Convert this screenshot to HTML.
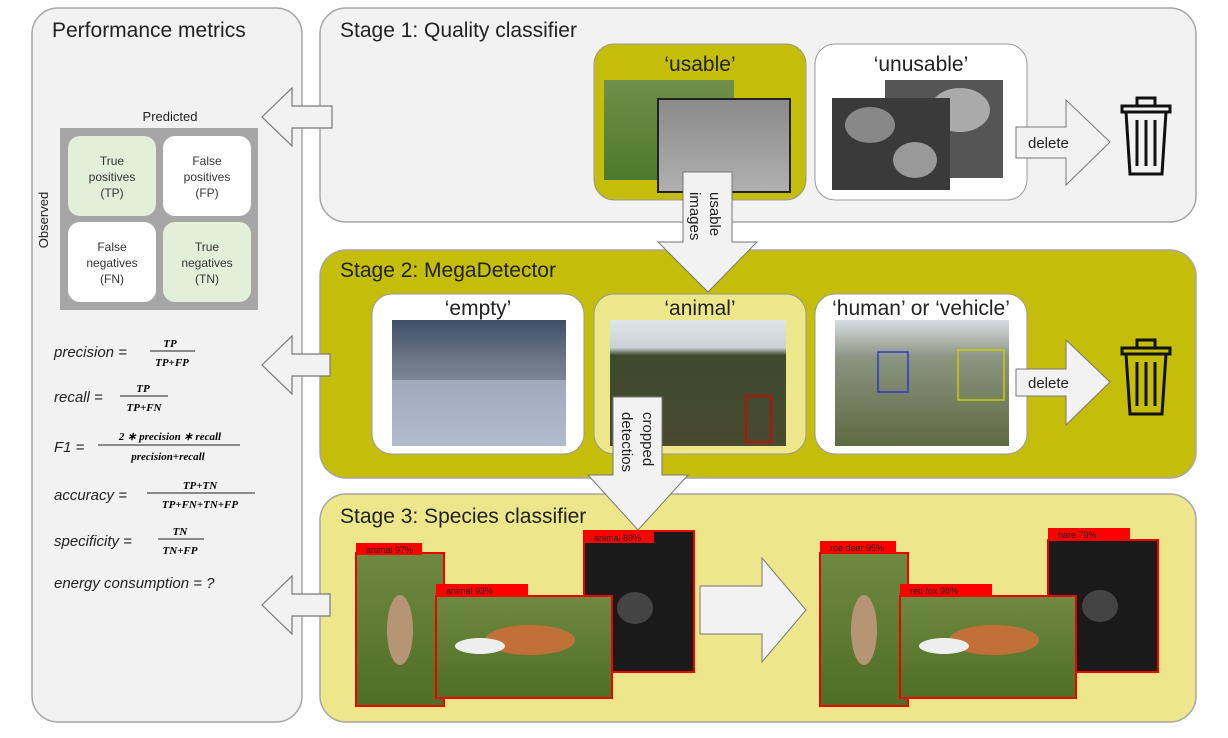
<!DOCTYPE html>
<html><head><style>
body{margin:0;background:#fff;}
svg{display:block;font-family:"Liberation Sans",sans-serif;}
.m{font-family:"Liberation Serif",serif;font-style:italic;font-weight:bold;font-size:11px;}
.f{font-family:"Liberation Sans",sans-serif;font-style:italic;font-size:15px;fill:#222}
</style></head><body>
<svg width="1228" height="738" viewBox="0 0 1228 738">
<defs>
<linearGradient id="forest" x1="0" y1="0" x2="0" y2="1"><stop offset="0" stop-color="#6f8f4a"/><stop offset="1" stop-color="#4d7a2a"/></linearGradient>
<linearGradient id="sand" x1="0" y1="0" x2="0" y2="1"><stop offset="0" stop-color="#8a8a8a"/><stop offset="1" stop-color="#b0b0b0"/></linearGradient>
<linearGradient id="snow" x1="0" y1="0" x2="0" y2="1"><stop offset="0" stop-color="#3f5068"/><stop offset="0.3" stop-color="#6a7585"/><stop offset="1" stop-color="#a9b4c8"/></linearGradient>
<linearGradient id="tundra" x1="0" y1="0" x2="0" y2="1"><stop offset="0" stop-color="#dfe6ea"/><stop offset="0.22" stop-color="#c9d2d6"/><stop offset="0.28" stop-color="#3c4a2c"/><stop offset="1" stop-color="#4a4a2e"/></linearGradient>
<linearGradient id="car" x1="0" y1="0" x2="0" y2="1"><stop offset="0" stop-color="#d6dde3"/><stop offset="0.3" stop-color="#8a9480"/><stop offset="1" stop-color="#5e6a40"/></linearGradient>
<linearGradient id="grass" x1="0" y1="0" x2="0" y2="1"><stop offset="0" stop-color="#6f8a40"/><stop offset="1" stop-color="#4d6e25"/></linearGradient>
</defs>

<rect x="32" y="8" width="270" height="714" rx="26" fill="#f2f2f2" stroke="#a6a6a6" stroke-width="1.5"/>
<rect x="320" y="8" width="876" height="214" rx="26" fill="#f2f2f2" stroke="#a6a6a6" stroke-width="1.5"/>
<rect x="320" y="250" width="876" height="228" rx="26" fill="#c4bd09" stroke="#a6a6a6" stroke-width="1.5"/>
<rect x="320" y="494" width="876" height="228" rx="26" fill="#ede68a" stroke="#a6a6a6" stroke-width="1.5"/>

<text x="52" y="37" font-size="21" fill="#222">Performance metrics</text>
<text x="340" y="37" font-size="21" fill="#222">Stage 1: Quality classifier</text>
<text x="340" y="277" font-size="21" fill="#222">Stage 2: MegaDetector</text>
<text x="340" y="523" font-size="21" fill="#222">Stage 3: Species classifier</text>

<text x="170" y="121" font-size="13" text-anchor="middle" fill="#222">Predicted</text>
<text transform="translate(48,220) rotate(-90)" font-size="13" text-anchor="middle" fill="#222">Observed</text>
<rect x="60" y="128" width="198" height="182" fill="#a6a6a6"/>
<rect x="68" y="136" width="88" height="80" rx="12" fill="#e2efd9"/>
<rect x="163" y="136" width="88" height="80" rx="12" fill="#fff"/>
<rect x="68" y="222" width="88" height="80" rx="12" fill="#fff"/>
<rect x="163" y="222" width="88" height="80" rx="12" fill="#e2efd9"/>
<g font-size="12" fill="#333" text-anchor="middle">
<text x="112" y="165">True</text><text x="112" y="181">positives</text><text x="112" y="197">(TP)</text>
<text x="207" y="165">False</text><text x="207" y="181">positives</text><text x="207" y="197">(FP)</text>
<text x="112" y="251">False</text><text x="112" y="267">negatives</text><text x="112" y="283">(FN)</text>
<text x="207" y="251">True</text><text x="207" y="267">negatives</text><text x="207" y="283">(TN)</text>
</g>

<g>
<text class="f" x="54" y="357">precision =</text>
<text class="m" x="170" y="347" text-anchor="middle">TP</text><line x1="150" y1="351" x2="195" y2="351" stroke="#222"/><text class="m" x="172" y="366" text-anchor="middle">TP+FP</text>
<text class="f" x="54" y="402">recall =</text>
<text class="m" x="143" y="392" text-anchor="middle">TP</text><line x1="120" y1="396" x2="168" y2="396" stroke="#222"/><text class="m" x="144" y="411" text-anchor="middle">TP+FN</text>
<text class="f" x="54" y="452">F1 =</text>
<text class="m" x="170" y="440" text-anchor="middle" font-weight="normal">2 ∗ precision ∗ recall</text><line x1="98" y1="445" x2="240" y2="445" stroke="#222"/><text class="m" x="168" y="460" text-anchor="middle" font-weight="normal">precision+recall</text>
<text class="f" x="54" y="500">accuracy =</text>
<text class="m" x="200" y="489" text-anchor="middle">TP+TN</text><line x1="147" y1="493" x2="255" y2="493" stroke="#222"/><text class="m" x="200" y="508" text-anchor="middle">TP+FN+TN+FP</text>
<text class="f" x="54" y="546">specificity =</text>
<text class="m" x="180" y="535" text-anchor="middle">TN</text><line x1="158" y1="539" x2="204" y2="539" stroke="#222"/><text class="m" x="180" y="554" text-anchor="middle">TN+FP</text>
<text class="f" x="54" y="588">energy consumption = ?</text>
</g>

<g fill="#f2f2f2" stroke="#777" stroke-width="1.2">
<path d="M262,117 L292,88 L292,106 L332,106 L332,128 L292,128 L292,146 Z"/>
<path d="M262,365 L292,336 L292,354 L330,354 L330,376 L292,376 L292,394 Z"/>
<path d="M262,605 L292,576 L292,594 L330,594 L330,616 L292,616 L292,634 Z"/>
</g>

<rect x="594" y="44" width="212" height="156" rx="20" fill="#c4bd09" stroke="#999"/>
<text x="700" y="71" font-size="21" text-anchor="middle" fill="#222">‘usable’</text>
<rect x="604" y="80" width="130" height="100" fill="url(#forest)"/>
<rect x="658" y="99" width="132" height="93" fill="url(#sand)" stroke="#222" stroke-width="2"/>
<rect x="815" y="44" width="212" height="156" rx="20" fill="#fff" stroke="#999"/>
<text x="921" y="71" font-size="21" text-anchor="middle" fill="#222">‘unusable’</text>
<rect x="885" y="80" width="118" height="98" fill="#555"/>
<ellipse cx="960" cy="110" rx="30" ry="22" fill="#aaa"/>
<rect x="832" y="98" width="118" height="92" fill="#3a3a3a"/>
<ellipse cx="870" cy="125" rx="25" ry="18" fill="#888"/><ellipse cx="915" cy="160" rx="22" ry="18" fill="#999"/>
<path d="M1016,127 L1066,127 L1066,100 L1110,142 L1066,185 L1066,158 L1016,158 Z" fill="#f2f2f2" stroke="#777"/>
<text x="1028" y="148" font-size="15" fill="#222">delete</text>
<g fill="none" stroke="#111" stroke-width="3">
<rect x="1122" y="106" width="48" height="6"/><rect x="1137" y="98" width="18" height="8"/>
<path d="M1126,112 L1130,174 L1162,174 L1166,112"/>
<line x1="1137" y1="120" x2="1137" y2="166"/><line x1="1146" y1="120" x2="1146" y2="166"/><line x1="1155" y1="120" x2="1155" y2="166"/>
</g>

<rect x="372" y="294" width="212" height="160" rx="20" fill="#fff" stroke="#999"/>
<text x="478" y="315" font-size="21" text-anchor="middle" fill="#222">‘empty’</text>
<rect x="392" y="320" width="174" height="126" fill="url(#snow)"/>
<rect x="392" y="380" width="174" height="66" fill="#b9c1d3" opacity="0.6"/>
<rect x="594" y="294" width="212" height="160" rx="20" fill="#ede68a" stroke="#999"/>
<text x="700" y="315" font-size="21" text-anchor="middle" fill="#222">‘animal’</text>
<rect x="610" y="320" width="176" height="126" fill="url(#tundra)"/>
<rect x="746" y="396" width="25" height="46" fill="none" stroke="#d00" stroke-width="1.5"/>
<rect x="815" y="294" width="212" height="160" rx="20" fill="#fff" stroke="#999"/>
<text x="921" y="315" font-size="21" text-anchor="middle" fill="#222">‘human’ or ‘vehicle’</text>
<rect x="835" y="320" width="174" height="126" fill="url(#car)"/>
<rect x="878" y="352" width="30" height="40" fill="none" stroke="#33c" stroke-width="1.5"/>
<rect x="958" y="350" width="46" height="50" fill="none" stroke="#cc0" stroke-width="1.5"/>
<path d="M1016,369 L1066,369 L1066,340 L1110,382 L1066,425 L1066,396 L1016,396 Z" fill="#f2f2f2" stroke="#777"/>
<text x="1028" y="388" font-size="15" fill="#222">delete</text>
<g fill="none" stroke="#111" stroke-width="3">
<rect x="1122" y="348" width="48" height="6"/><rect x="1137" y="340" width="18" height="8"/>
<path d="M1126,354 L1130,414 L1162,414 L1166,354"/>
<line x1="1137" y1="362" x2="1137" y2="406"/><line x1="1146" y1="362" x2="1146" y2="406"/><line x1="1155" y1="362" x2="1155" y2="406"/>
</g>

<path d="M683,172 L732,172 L732,242 L757,242 L708,292 L658,242 L683,242 Z" fill="#f2f2f2" stroke="#777"/>
<text transform="translate(710,192) rotate(90)" font-size="15" fill="#222">usable</text>
<text transform="translate(690,192) rotate(90)" font-size="15" fill="#222">images</text>
<path d="M613,397 L662,397 L662,475 L688,475 L638,530 L588,475 L613,475 Z" fill="#f2f2f2" stroke="#777"/>
<text transform="translate(643,412) rotate(90)" font-size="15" fill="#222">cropped</text>
<text transform="translate(622,412) rotate(90)" font-size="15" fill="#222">detectios</text>

<g>
<rect x="584" y="531" width="110" height="141" fill="#1a1a1a" stroke="#e00" stroke-width="2"/>
<rect x="584" y="531" width="70" height="12" fill="#f00"/><text x="594" y="541" font-size="9" fill="#222">animal 89%</text>
<ellipse cx="635" cy="608" rx="18" ry="16" fill="#444"/>
<rect x="356" y="553" width="88" height="153" fill="url(#grass)" stroke="#e00" stroke-width="2"/>
<rect x="356" y="543" width="66" height="12" fill="#f00"/><text x="366" y="553" font-size="9" fill="#222">animal 97%</text>
<ellipse cx="400" cy="630" rx="13" ry="35" fill="#b59574"/>
<rect x="436" y="596" width="176" height="102" fill="url(#grass)" stroke="#e00" stroke-width="2"/>
<rect x="436" y="584" width="92" height="12" fill="#f00"/><text x="446" y="594" font-size="9" fill="#222">animal 93%</text>
<ellipse cx="530" cy="640" rx="45" ry="15" fill="#c2703a"/><ellipse cx="480" cy="646" rx="25" ry="8" fill="#eee"/>
</g>
<path d="M700,586 L762,586 L762,558 L806,610 L762,662 L762,634 L700,634 Z" fill="#f2f2f2" stroke="#777"/>
<g>
<rect x="1048" y="540" width="110" height="132" fill="#1a1a1a" stroke="#e00" stroke-width="2"/>
<rect x="1048" y="528" width="82" height="12" fill="#f00"/><text x="1058" y="538" font-size="9" fill="#222">hare 79%</text>
<ellipse cx="1100" cy="606" rx="18" ry="16" fill="#444"/>
<rect x="820" y="553" width="88" height="153" fill="url(#grass)" stroke="#e00" stroke-width="2"/>
<rect x="820" y="541" width="76" height="12" fill="#f00"/><text x="830" y="551" font-size="9" fill="#222">roe deer 95%</text>
<ellipse cx="864" cy="630" rx="13" ry="35" fill="#b59574"/>
<rect x="900" y="596" width="176" height="102" fill="url(#grass)" stroke="#e00" stroke-width="2"/>
<rect x="900" y="584" width="92" height="12" fill="#f00"/><text x="910" y="594" font-size="9" fill="#222">red fox 98%</text>
<ellipse cx="994" cy="640" rx="45" ry="15" fill="#c2703a"/><ellipse cx="944" cy="646" rx="25" ry="8" fill="#eee"/>
</g>
</svg>
</body></html>
